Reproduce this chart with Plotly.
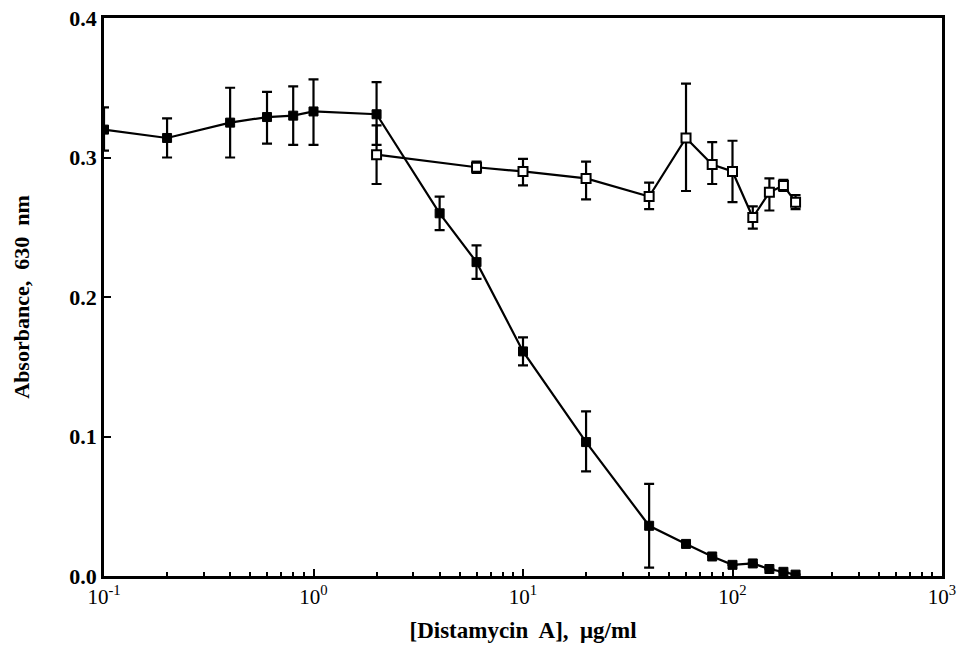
import plotly.graph_objects as go

# Filled squares series
filled_x = [0.1, 0.2, 0.4, 0.6, 0.8, 1.0, 2, 4, 6, 10, 20, 40, 60, 80, 100, 125, 150, 175, 200]
filled_y = [0.320, 0.314, 0.325, 0.329, 0.330, 0.333, 0.331, 0.260, 0.225, 0.161, 0.096, 0.036,
            0.023, 0.014, 0.008, 0.009, 0.005, 0.003, 0.001]
filled_err_plus = [0.016, 0.014, 0.025, 0.018, 0.021, 0.023, 0.023, 0.012, 0.012, 0.010, 0.022, 0.030,
                   0, 0, 0, 0, 0, 0, 0]
filled_err_minus = [0.015, 0.014, 0.025, 0.019, 0.021, 0.024, 0.022, 0.012, 0.012, 0.010, 0.021, 0.030,
                    0, 0, 0, 0, 0, 0, 0]

# Open squares series
open_x = [2, 6, 10, 20, 40, 60, 80, 100, 125, 150, 175, 200]
open_y = [0.302, 0.293, 0.290, 0.285, 0.272, 0.314, 0.295, 0.290, 0.257, 0.275, 0.280, 0.268]
open_err_plus = [0.021, 0.004, 0.009, 0.012, 0.010, 0.039, 0.016, 0.022, 0.008, 0.010, 0.004, 0.005]
open_err_minus = [0.021, 0.004, 0.010, 0.015, 0.009, 0.038, 0.014, 0.022, 0.008, 0.013, 0.004, 0.005]

x_tick_vals = [0.1, 1, 10, 100, 1000]
x_tick_text = ["10<sup>-1</sup>", "10<sup>0</sup>", "10<sup>1</sup>", "10<sup>2</sup>", "10<sup>3</sup>"]
x_minor_vals = [m * d for d in [0.1, 1, 10, 100] for m in range(2, 10)]
y_tick_vals = [0.0, 0.1, 0.2, 0.3, 0.4]
y_tick_text = ["0.0", "0.1", "0.2", "0.3", "0.4"]

x_title = "[Distamycin\u00a0 A],\u00a0 μg/ml"
y_title = "Absorbance,\u00a0 630\u00a0 nm"

FONT = "Liberation Serif"

fig = go.Figure()

fig.add_trace(go.Scatter(
    x=filled_x, y=filled_y, mode="lines+markers",
    line=dict(color="black", width=2.2),
    marker=dict(symbol="square", size=9, color="black", line=dict(color="black", width=1)),
    error_y=dict(type="data", symmetric=False, array=filled_err_plus, arrayminus=filled_err_minus,
                 color="black", thickness=2.2, width=5),
    showlegend=False,
))

fig.add_trace(go.Scatter(
    x=open_x, y=open_y, mode="lines+markers",
    line=dict(color="black", width=2.2),
    marker=dict(symbol="square", size=9, color="white", line=dict(color="black", width=2)),
    error_y=dict(type="data", symmetric=False, array=open_err_plus, arrayminus=open_err_minus,
                 color="black", thickness=2.2, width=5),
    showlegend=False,
))

fig.update_layout(
    width=965, height=647,
    margin=dict(l=104, r=23, t=18, b=71),
    paper_bgcolor="white", plot_bgcolor="white",
    font=dict(family=FONT, color="black"),
)

fig.update_xaxes(
    type="log", range=[-1, 3], automargin=False,
    tickmode="array", tickvals=x_tick_vals, ticktext=x_tick_text,
    ticks="inside", ticklen=7, tickwidth=2, tickcolor="black",
    minor=dict(tickmode="array", tickvals=x_minor_vals, ticks="inside", ticklen=4,
               tickwidth=2, tickcolor="black", showgrid=False),
    showline=True, linecolor="black", linewidth=2.8, mirror=True,
    showgrid=False, zeroline=False,
    tickfont=dict(family=FONT, size=21, color="black"),
    title=dict(text="<b>" + x_title + "</b>", font=dict(family=FONT, size=23, color="black"),
               standoff=14),
)

fig.update_yaxes(
    range=[0, 0.4], automargin=False,
    tickmode="array", tickvals=y_tick_vals, ticktext=y_tick_text,
    ticks="inside", ticklen=7, tickwidth=2, tickcolor="black",
    showline=True, linecolor="black", linewidth=2.8, mirror=True,
    showgrid=False, zeroline=False,
    tickfont=dict(family=FONT, size=22, color="black", weight="bold"),
    title=dict(text="<b>" + y_title + "</b>", font=dict(family=FONT, size=22, color="black"),
               standoff=34),
)

fig.write_html("out.html", config={"displayModeBar": False},
               post_script="document.body.style.margin='0';")
